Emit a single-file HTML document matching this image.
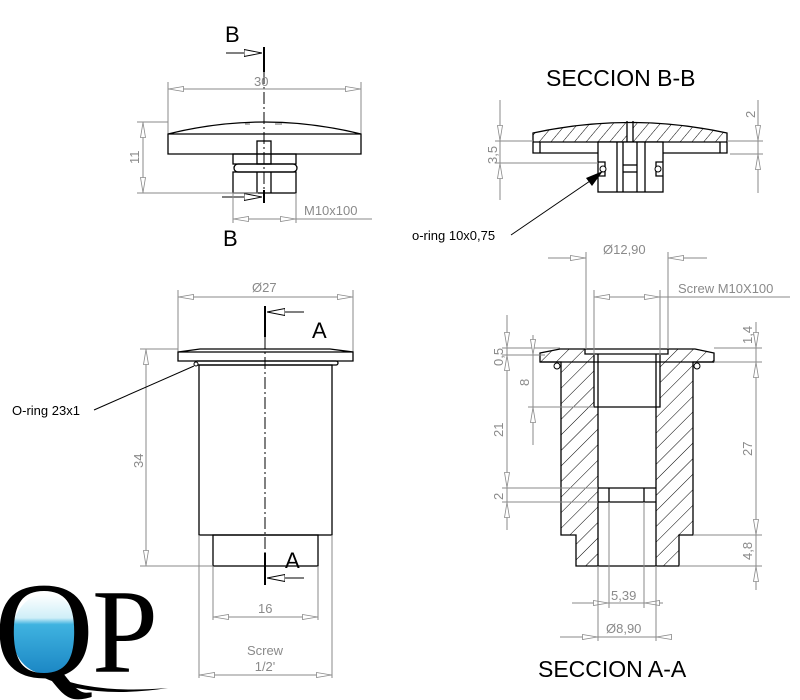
<!DOCTYPE html>
<html><head><meta charset="utf-8"><style>
html,body{margin:0;padding:0;background:#fff;}
svg{display:block;}
.d{stroke:#8a8a8a;stroke-width:1;fill:none;}
.o{stroke:#000;stroke-width:1.3;fill:none;}
.t{font-family:"Liberation Sans",sans-serif;fill:#8a8a8a;font-size:13px;}
.b{font-family:"Liberation Sans",sans-serif;fill:#000;}
</style></head><body>
<svg width="800" height="700" viewBox="0 0 800 700" xmlns="http://www.w3.org/2000/svg">
<defs>
<marker id="a" viewBox="0 0 16 6" refX="16" refY="3" markerWidth="16" markerHeight="6" markerUnits="userSpaceOnUse" orient="auto-start-reverse">
<path d="M0.5,0.5 L15.5,3 L0.5,5.5 Z" fill="#fff" stroke="#8a8a8a" stroke-width="0.8"/></marker>
<marker id="s" viewBox="0 0 18 8" refX="18" refY="4" markerWidth="18" markerHeight="8" markerUnits="userSpaceOnUse" orient="auto">
<path d="M0,0.5 L18,4 L0,7.5 Z" fill="#fff" stroke="#000" stroke-width="0.9"/></marker>
<pattern id="h" width="11" height="11" patternUnits="userSpaceOnUse" patternTransform="rotate(45)">
<line x1="0" y1="0" x2="0" y2="11" stroke="#000" stroke-width="1"/></pattern>
<pattern id="h2" width="9" height="9" patternUnits="userSpaceOnUse" patternTransform="rotate(40)">
<line x1="0" y1="0" x2="0" y2="9" stroke="#000" stroke-width="1"/></pattern>
<linearGradient id="w" x1="0" y1="0" x2="0" y2="1">
<stop offset="0" stop-color="#fff"/><stop offset="0.3" stop-color="#cfeff8"/><stop offset="0.38" stop-color="#3fb3e0"/><stop offset="1" stop-color="#1b86c4"/></linearGradient>
</defs>

<!-- ===== TOP VIEW ===== -->
<text class="b" x="225" y="42" font-size="22">B</text>
<text class="b" x="223" y="246" font-size="22">B</text>
<line x1="264" y1="47" x2="264" y2="72" stroke="#000" stroke-width="2"/>
<line x1="264" y1="72" x2="264" y2="190" stroke="#000" stroke-width="1" stroke-dasharray="12,3,2,3"/>
<line x1="264" y1="190" x2="264" y2="203" stroke="#000" stroke-width="2"/>
<line x1="226" y1="53" x2="262" y2="53" stroke="#000" marker-end="url(#s)"/>
<line x1="222" y1="197" x2="262" y2="197" stroke="#000" marker-end="url(#s)"/>
<text class="t" x="254" y="86" font-size="14">30</text>
<line class="d" x1="168" y1="89" x2="361" y2="89" marker-start="url(#a)" marker-end="url(#a)"/>
<line class="d" x1="168" y1="82" x2="168" y2="134"/><line class="d" x1="361" y1="82" x2="361" y2="134"/>
<path class="o" d="M168,134 Q264,110 361,134 L361,154 L168,154 Z M168,134 L361,134"/>
<line x1="245" y1="124" x2="250" y2="124" stroke="#000" stroke-width="0.6"/><line x1="275" y1="124" x2="282" y2="124" stroke="#000" stroke-width="0.6"/>
<rect class="o" x="257" y="141" width="14" height="23"/>
<rect class="o" x="233" y="154" width="63" height="10"/>
<rect class="o" x="234" y="164" width="63" height="8" rx="4"/>
<rect class="o" x="233" y="172" width="63" height="21"/>
<line class="o" x1="257" y1="172" x2="257" y2="193"/><line class="o" x1="271" y1="172" x2="271" y2="193"/>
<line class="d" x1="143" y1="122" x2="143" y2="193" marker-start="url(#a)" marker-end="url(#a)"/>
<line class="d" x1="137" y1="122" x2="168" y2="122"/><line class="d" x1="137" y1="193" x2="258" y2="193"/>
<text class="t" x="0" y="0" font-size="14" transform="translate(139,164) rotate(-90)">11</text>
<line class="d" x1="233" y1="193" x2="233" y2="223"/><line class="d" x1="296" y1="193" x2="296" y2="223"/>
<line class="d" x1="233" y1="219" x2="296" y2="219" marker-start="url(#a)" marker-end="url(#a)"/>
<line class="d" x1="296" y1="219" x2="372" y2="219"/>
<text class="t" x="304" y="215" font-size="14">M10x100</text>

<!-- ===== SECCION B-B ===== -->
<text class="b" x="546" y="86" font-size="23">SECCION B-B</text>
<path d="M533,133 Q630,112 727,133 L727,142 L533,142 Z" fill="url(#h2)"/>
<rect x="627" y="120" width="6" height="22" fill="#fff"/>
<path class="o" d="M533,133 Q630,112 727,133 L727,153 L533,153 Z M533,142 L727,142 M540,142 L540,153 M720,142 L720,153 M627,121 L627,142 M633,121 L633,142"/>
<rect x="598" y="142" width="65" height="50" fill="#fff" stroke="#000" stroke-width="1.3"/>
<line class="o" x1="617" y1="142" x2="617" y2="192"/><line class="o" x1="623" y1="142" x2="623" y2="192"/>
<line class="o" x1="637" y1="142" x2="637" y2="192"/><line class="o" x1="645" y1="142" x2="645" y2="192"/>
<line class="o" x1="623" y1="165" x2="637" y2="165"/><line class="o" x1="623" y1="172" x2="637" y2="172"/>
<path class="o" d="M598,162 L605,162 L605,176 L598,176"/><path class="o" d="M663,162 L656,162 L656,176 L663,176"/>
<circle cx="603" cy="169" r="3" fill="#fff" stroke="#000"/><circle cx="658" cy="169" r="3" fill="#fff" stroke="#000"/>
<line class="d" x1="500" y1="100" x2="500" y2="200"/>
<line class="d" x1="500" y1="122" x2="500" y2="141" marker-end="url(#a)"/>
<line class="d" x1="500" y1="182" x2="500" y2="163" marker-end="url(#a)"/>
<line class="d" x1="495" y1="141" x2="533" y2="141"/><line class="d" x1="495" y1="163" x2="598" y2="163"/>
<text class="t" x="0" y="0" font-size="14" transform="translate(497,164) rotate(-90)">3,5</text>
<line class="d" x1="758" y1="100" x2="758" y2="193"/>
<line class="d" x1="758" y1="122" x2="758" y2="141" marker-end="url(#a)"/>
<line class="d" x1="758" y1="173" x2="758" y2="154" marker-end="url(#a)"/>
<line class="d" x1="727" y1="141" x2="763" y2="141"/><line class="d" x1="730" y1="154" x2="763" y2="154"/>
<text class="t" x="0" y="0" font-size="14" transform="translate(755,118) rotate(-90)">2</text>
<text class="b" x="412" y="240" font-size="13">o-ring 10x0,75</text>
<line x1="511" y1="235" x2="590" y2="181" stroke="#000"/>
<path d="M603,171 L586,178 L592,186 Z" fill="#000"/>

<!-- ===== FRONT VIEW ===== -->
<text class="t" x="252" y="292" font-size="14">Ø27</text>
<line class="d" x1="178" y1="297" x2="353" y2="297" marker-start="url(#a)" marker-end="url(#a)"/>
<line class="d" x1="178" y1="290" x2="178" y2="352"/><line class="d" x1="353" y1="290" x2="353" y2="352"/>
<path class="o" d="M178,352 L200,349 L330,349 L353,352 L353,361 L178,361 Z M178,352 L353,352"/>
<rect class="o" x="195" y="361" width="143" height="4" rx="2"/>
<circle cx="196" cy="364" r="2" fill="#fff" stroke="#000"/>
<rect class="o" x="199" y="365" width="133" height="170"/>
<rect class="o" x="213" y="535" width="105" height="31"/>
<line x1="265" y1="306" x2="265" y2="337" stroke="#000" stroke-width="2"/>
<line x1="265" y1="337" x2="265" y2="553" stroke="#000" stroke-width="1" stroke-dasharray="12,3,2,3"/>
<line x1="265" y1="553" x2="265" y2="585" stroke="#000" stroke-width="2"/>
<line x1="304" y1="312" x2="267" y2="312" stroke="#000" marker-end="url(#s)"/>
<line x1="304" y1="578" x2="267" y2="578" stroke="#000" marker-end="url(#s)"/>
<text class="b" x="312" y="338" font-size="22">A</text>
<text class="b" x="285" y="568" font-size="22">A</text>
<line class="d" x1="146" y1="349" x2="146" y2="566" marker-start="url(#a)" marker-end="url(#a)"/>
<line class="d" x1="140" y1="349" x2="178" y2="349"/><line class="d" x1="140" y1="566" x2="213" y2="566"/>
<text class="t" x="0" y="0" font-size="14" transform="translate(143,468) rotate(-90)">34</text>
<line class="d" x1="213" y1="566" x2="213" y2="620"/><line class="d" x1="318" y1="566" x2="318" y2="620"/>
<line class="d" x1="213" y1="617" x2="318" y2="617" marker-start="url(#a)" marker-end="url(#a)"/>
<text class="t" x="258" y="613" font-size="14">16</text>
<line class="d" x1="199" y1="535" x2="199" y2="678"/><line class="d" x1="332" y1="535" x2="332" y2="678"/>
<line class="d" x1="199" y1="675" x2="332" y2="675" marker-start="url(#a)" marker-end="url(#a)"/>
<text class="t" x="265" y="655" font-size="14" text-anchor="middle">Screw</text>
<text class="t" x="265" y="671" font-size="14" text-anchor="middle">1/2'</text>
<text class="b" x="12" y="415" font-size="13">O-ring 23x1</text>
<line x1="94" y1="410" x2="194" y2="366" stroke="#000"/>

<!-- ===== SECCION A-A ===== -->
<path fill="url(#h)" fill-rule="evenodd" d="M540,353 L560,349 L695,349 L714,353 L714,362 L693,362 L693,535 L679,535 L679,566 L576,566 L576,535 L561,535 L561,362 L540,362 Z M585,349 L668,349 L668,354 L660,354 L660,407 L656,407 L656,566 L598,566 L598,407 L594,407 L594,354 L585,354 Z"/>
<path class="o" d="M540,353 L560,349 L695,349 L714,353 L714,362 L693,362 L693,535 L679,535 L679,566 L576,566 L576,535 L561,535 L561,362 L540,362 Z"/>
<path class="o" d="M585,349 L585,354 L668,354 L668,349 M594,354 L594,407 L660,407 L660,354 M598,354 L598,566 M656,354 L656,566 M598,488 L656,488 M598,502 L656,502 M609,488 L609,502 M644,488 L644,502 M540,362 L714,362"/>
<circle cx="557" cy="366" r="3" fill="#fff" stroke="#000"/><circle cx="697" cy="366" r="3" fill="#fff" stroke="#000"/>
<text class="t" x="603" y="254" font-size="14">Ø12,90</text>
<line class="d" x1="548" y1="258" x2="586" y2="258" marker-end="url(#a)"/>
<line class="d" x1="707" y1="258" x2="668" y2="258" marker-end="url(#a)"/>
<line class="d" x1="586" y1="252" x2="586" y2="349"/><line class="d" x1="668" y1="252" x2="668" y2="349"/>
<text class="t" x="678" y="293" font-size="14">Screw M10X100</text>
<line class="d" x1="594" y1="297" x2="660" y2="297" marker-start="url(#a)" marker-end="url(#a)"/>
<line class="d" x1="660" y1="297" x2="790" y2="297"/>
<line class="d" x1="594" y1="290" x2="594" y2="355"/><line class="d" x1="660" y1="290" x2="660" y2="355"/>
<line class="d" x1="507" y1="315" x2="507" y2="530"/>
<line class="d" x1="507" y1="328" x2="507" y2="348" marker-end="url(#a)"/>
<line class="d" x1="507" y1="375" x2="507" y2="355" marker-end="url(#a)"/>
<line class="d" x1="507" y1="468" x2="507" y2="488" marker-end="url(#a)"/>
<line class="d" x1="507" y1="520" x2="507" y2="502" marker-end="url(#a)"/>
<line class="d" x1="502" y1="348" x2="560" y2="348"/><line class="d" x1="502" y1="355" x2="545" y2="355"/>
<line class="d" x1="502" y1="488" x2="598" y2="488"/><line class="d" x1="502" y1="502" x2="598" y2="502"/>
<text class="t" x="0" y="0" font-size="14" transform="translate(503,366) rotate(-90)">0,5</text>
<text class="t" x="0" y="0" font-size="14" transform="translate(503,437) rotate(-90)">21</text>
<text class="t" x="0" y="0" font-size="14" transform="translate(503,500) rotate(-90)">2</text>
<line class="d" x1="533" y1="335" x2="533" y2="445"/>
<line class="d" x1="533" y1="336" x2="533" y2="355" marker-end="url(#a)"/>
<line class="d" x1="533" y1="426" x2="533" y2="407" marker-end="url(#a)"/>
<line class="d" x1="528" y1="407" x2="594" y2="407"/>
<text class="t" x="0" y="0" font-size="14" transform="translate(529,386) rotate(-90)">8</text>
<line class="d" x1="756" y1="322" x2="756" y2="590"/>
<line class="d" x1="756" y1="328" x2="756" y2="348" marker-end="url(#a)"/>
<line class="d" x1="756" y1="382" x2="756" y2="362" marker-end="url(#a)"/>
<line class="d" x1="756" y1="515" x2="756" y2="535" marker-end="url(#a)"/>
<line class="d" x1="756" y1="586" x2="756" y2="566" marker-end="url(#a)"/>
<line class="d" x1="714" y1="348" x2="762" y2="348"/><line class="d" x1="714" y1="362" x2="762" y2="362"/>
<line class="d" x1="693" y1="535" x2="762" y2="535"/><line class="d" x1="679" y1="566" x2="762" y2="566"/>
<text class="t" x="0" y="0" font-size="14" transform="translate(752,344) rotate(-90)">1,4</text>
<text class="t" x="0" y="0" font-size="14" transform="translate(752,456) rotate(-90)">27</text>
<text class="t" x="0" y="0" font-size="14" transform="translate(752,560) rotate(-90)">4,8</text>
<line class="d" x1="609" y1="502" x2="609" y2="608"/><line class="d" x1="644" y1="502" x2="644" y2="608"/>
<line class="d" x1="572" y1="603" x2="609" y2="603" marker-end="url(#a)"/>
<line class="d" x1="663" y1="603" x2="644" y2="603" marker-end="url(#a)"/>
<line class="d" x1="609" y1="603" x2="644" y2="603"/>
<text class="t" x="611" y="600" font-size="14">5,39</text>
<line class="d" x1="598" y1="566" x2="598" y2="641"/><line class="d" x1="656" y1="566" x2="656" y2="641"/>
<line class="d" x1="560" y1="637" x2="598" y2="637" marker-end="url(#a)"/>
<line class="d" x1="672" y1="637" x2="656" y2="637" marker-end="url(#a)"/>
<line class="d" x1="598" y1="637" x2="656" y2="637"/>
<text class="t" x="606" y="633" font-size="14">Ø8,90</text>
<text class="b" x="538" y="677" font-size="23">SECCION A-A</text>

<!-- ===== LOGO ===== -->
<ellipse cx="46" cy="634" rx="34" ry="40" fill="url(#w)"/>
<text x="-6" y="677" font-family="Liberation Serif,serif" font-size="138" fill="#000" textLength="100" lengthAdjust="spacingAndGlyphs">Q</text>
<text x="92" y="672" font-family="Liberation Serif,serif" font-size="120" fill="#000" textLength="66" lengthAdjust="spacingAndGlyphs">P</text>
<path d="M40,676 Q90,700 168,688 Q95,694 52,676 Z" fill="#000"/>
</svg>
</body></html>
